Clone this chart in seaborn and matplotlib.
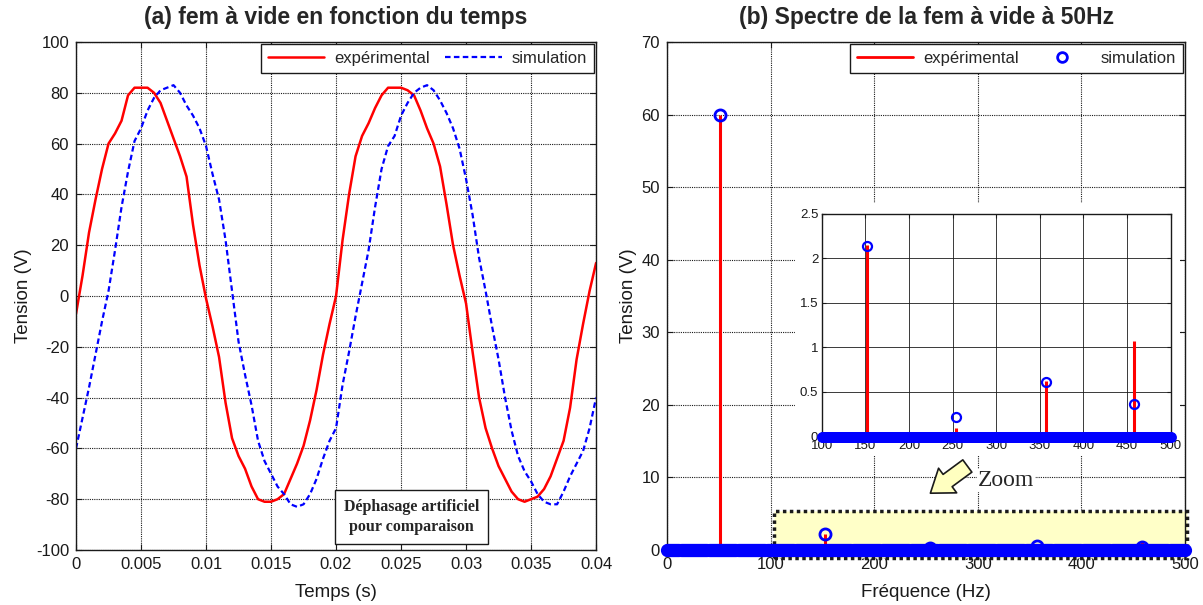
import numpy as np
import pandas as pd
import seaborn as sns
import matplotlib
matplotlib.use('Agg')
import matplotlib.pyplot as plt
from matplotlib.lines import Line2D
from matplotlib.patches import Rectangle, FancyArrowPatch

# ---- (a) fem a vide : samples every 0.5 ms from 0 to 40 ms ----
temps = np.linspace(0, 0.04, 81)
fem_exp = [-7, 8, 25, 38, 50, 60, 64, 69, 79, 82, 82, 82, 80, 76, 69, 62, 55, 47, 28, 12,
           -1, -12, -24, -42, -56, -63, -68, -75, -80, -81, -81, -80, -78, -72, -66, -59, -49, -37, -23, -11,
           0, 22, 40, 55, 63, 68, 74, 79, 82, 82, 82, 81, 79, 73, 66, 60, 51, 36, 20, 8,
           -3, -22, -40, -52, -60, -67, -72, -77, -80, -81, -80, -79, -76, -71, -64, -57, -44, -25, -11, 2,
           13]
fem_sim = [-60, -48, -36, -23, -10, 2, 18, 35, 49, 61, 66, 73, 78, 81, 82, 83, 80, 75, 71, 66,
           59, 48, 38, 22, 2, -18, -31, -43, -57, -65, -70, -75, -78, -82, -83, -82, -78, -72, -64, -57,
           -52, -35, -22, -8, 5, 18, 35, 50, 59, 63, 71, 76, 80, 82, 83, 81, 77, 72, 66, 58,
           46, 32, 15, 2, -12, -25, -40, -53, -63, -69, -73, -78, -81, -82, -82, -77, -71, -66, -61, -52,
           -40]

# ---- (b) spectre : harmonics 1, 3, 5, 7, 9 ----
harm_freq = [51, 152, 254, 357, 458]
spec_exp = [60.0, 2.15, 0.10, 0.62, 1.07]
spec_sim = [60.0, 2.14, 0.22, 0.61, 0.37]
freq_bins = np.arange(0, 501, 1)          # FFT bins (amplitude ~ 0 outside harmonics)
bins_sim = np.zeros(len(freq_bins))

x_ticks_a = [0, 0.005, 0.01, 0.015, 0.02, 0.025, 0.03, 0.035, 0.04]
x_labels_a = ['0', '0.005', '0.01', '0.015', '0.02', '0.025', '0.03', '0.035', '0.04']

df = pd.DataFrame({'t': temps, 'exp': fem_exp, 'sim': fem_sim})

sns.set_theme(style='ticks')
plt.rcParams['font.family'] = ['Liberation Sans', 'DejaVu Sans']
plt.rcParams['axes.axisbelow'] = True
plt.rcParams['axes.unicode_minus'] = False

fig = plt.figure(figsize=(12.03, 6.05), dpi=100)
ax1 = fig.add_axes([0.0632, 0.0909, 0.4323, 0.8397])
ax2 = fig.add_axes([0.5545, 0.0909, 0.4306, 0.8397])

def matlab_axes(ax, fs=12):
    ax.tick_params(direction='in', top=True, right=True, length=4, width=0.8,
                   labelsize=fs, colors='k', pad=5)
    ax.grid(True, ls=(0, (1, 1)), color='k', lw=0.8)
    for s in ax.spines.values():
        s.set_color('k')
        s.set_linewidth(1.0)

# ---------------- (a) ----------------
sns.lineplot(data=df, x='t', y='exp', color='red', lw=1.8, ax=ax1, label='expérimental')
sns.lineplot(data=df, x='t', y='sim', color='blue', lw=1.6, ls=(0, (2.5, 1.5)), ax=ax1,
             label='simulation')
ax1.set_xlim(0, 0.04)
ax1.set_ylim(-100, 100)
ax1.set_xticks(x_ticks_a)
ax1.set_xticklabels(x_labels_a)
ax1.set_yticks(range(-100, 101, 20))
matlab_axes(ax1)
ax1.set_xlabel('Temps (s)', fontsize=13.5, color='k', labelpad=9)
ax1.set_ylabel('Tension (V)', fontsize=13.5, color='k', labelpad=3)
ax1.set_title('(a) fem à vide en fonction du temps', fontsize=16.5, fontweight='bold', pad=13)
leg1 = ax1.legend(loc='upper right', ncol=2, frameon=True, fancybox=False, edgecolor='k',
                  framealpha=1, borderaxespad=0.15, handlelength=3.4, fontsize=12,
                  columnspacing=0.9, handletextpad=0.6)
leg1.get_frame().set_linewidth(1.0)
ax1.text(0.0258, -87, 'Déphasage artificiel\npour comparaison', ha='center', va='center',
         fontsize=11.5, fontweight='bold', family='Liberation Serif', zorder=6, linespacing=1.3,
         bbox=dict(boxstyle='square,pad=0.55', fc='white', ec='k', lw=1.0))

# ---------------- (b) ----------------
ax2.set_xlim(0, 500)
ax2.set_ylim(0, 70)
ax2.set_xticks(range(0, 501, 100))
ax2.set_yticks(range(0, 71, 10))
matlab_axes(ax2)
ax2.add_patch(Rectangle((103, -1.05), 399, 6.45, fc='#ffffc8', ec='k', lw=2.5,
                        ls=(0, (1, 1)), zorder=1.2, clip_on=False))
ax2.vlines(harm_freq, 0, spec_exp, color='red', lw=2.2, zorder=3)
ax2.plot(freq_bins, bins_sim, 'o', mfc='none', mec='blue', mew=1.5, ms=8, clip_on=False, zorder=4)
ax2.plot(harm_freq, spec_sim, 'o', mfc='none', mec='blue', mew=2, ms=8, clip_on=False, zorder=4)
ax2.set_xlabel('Fréquence (Hz)', fontsize=13.5, color='k', labelpad=9)
ax2.set_ylabel('Tension (V)', fontsize=13.5, color='k', labelpad=3)
ax2.set_title('(b) Spectre de la fem à vide à 50Hz', fontsize=16.5, fontweight='bold', pad=13)
handles = [Line2D([], [], color='red', lw=2),
           Line2D([], [], color='blue', marker='o', ls='none', mfc='none', mew=2, ms=7)]
leg2 = ax2.legend(handles, ['expérimental', 'simulation'], loc='upper right', ncol=2,
                  frameon=True, fancybox=False, edgecolor='k', framealpha=1, borderaxespad=0.15,
                  handlelength=3.4, fontsize=12, columnspacing=0.9, handletextpad=0.6)
leg2.get_frame().set_linewidth(1.0)

# zoom arrow + label
ax2.add_patch(FancyArrowPatch((292, 11.8), (252, 7.6),
                              arrowstyle='simple,head_length=0.7,head_width=1.0,tail_width=0.5',
                              mutation_scale=22, fc='#ffffc0', ec='k', lw=1.2, zorder=5))
ax2.text(300, 9.6, 'Zoom', ha='left', va='center', fontsize=17, family='Liberation Serif',
         zorder=5, bbox=dict(boxstyle='square,pad=0.05', fc='white', ec='none'))

# white area behind the inset
ax2.add_patch(Rectangle((0.661, 0.248), 0.32, 0.416, transform=fig.transFigure,
                        fc='white', ec='none', zorder=1, clip_on=False))

# ---------------- inset ----------------
axi = fig.add_axes([0.6831, 0.2785, 0.2899, 0.3686])
in_range = (freq_bins >= 100) & (freq_bins <= 500)
axi.vlines(harm_freq[1:], 0, spec_exp[1:], color='red', lw=2.2, zorder=3)
axi.plot(freq_bins[in_range], bins_sim[in_range], 'o', mfc='none', mec='blue', mew=1.3, ms=6.5,
         clip_on=False, zorder=4)
axi.plot(harm_freq[1:], spec_sim[1:], 'o', mfc='none', mec='blue', mew=1.6, ms=6.5,
         clip_on=False, zorder=4)
axi.set_xlim(100, 500)
axi.set_ylim(0, 2.5)
axi.set_xticks(range(100, 501, 50))
axi.set_yticks([0, 0.5, 1, 1.5, 2, 2.5])
axi.set_yticklabels(['0', '0.5', '1', '1.5', '2', '2.5'])
axi.tick_params(direction='in', top=True, right=True, length=3, width=0.8, labelsize=9.5,
                colors='k', pad=2.5)
axi.grid(True, ls='-', color='k', lw=0.6)
for s in axi.spines.values():
    s.set_color('k')
    s.set_linewidth(1.0)

fig.savefig('out.png', dpi=100)
